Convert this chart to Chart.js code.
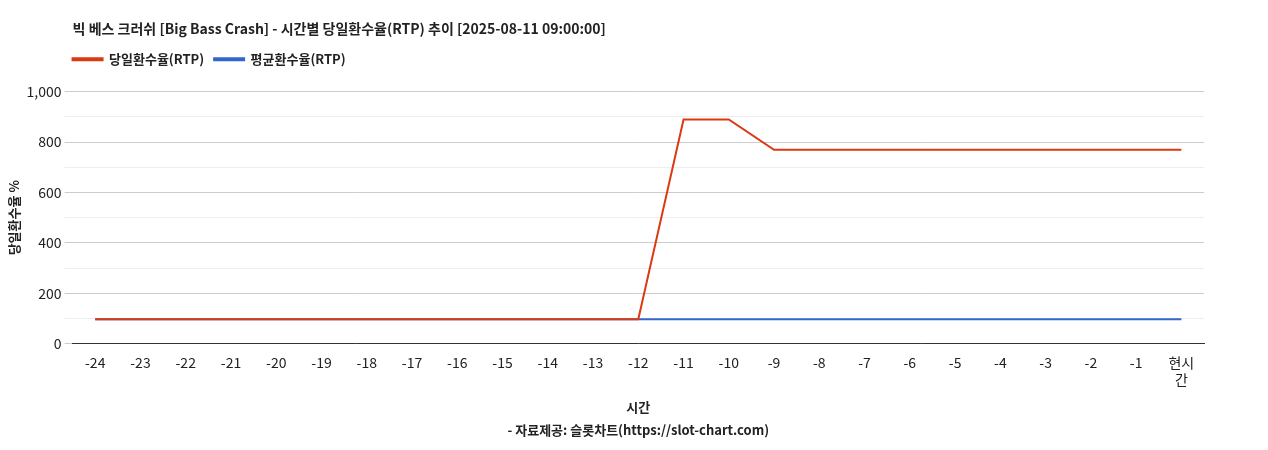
<!DOCTYPE html>
<html>
<head>
<meta charset="utf-8">
<script src="https://cdn.jsdelivr.net/npm/chart.js@4"></script>
<style>
  html, body { margin: 0; padding: 0; background: #fff; }
  #wrap { width: 1268px; height: 450px; }
</style>
</head>
<body>
<div id="wrap"><canvas id="rtpChart"></canvas></div>
<script>
const hours = ['-24','-23','-22','-21','-20','-19','-18','-17','-16','-15','-14','-13','-12',
               '-11','-10','-9','-8','-7','-6','-5','-4','-3','-2','-1',['현시','간']];
const avgRtp = [97,97,97,97,97,97,97,97,97,97,97,97,97,97,97,97,97,97,97,97,97,97,97,97,97];
const dayRtp = [97,97,97,97,97,97,97,97,97,97,97,97,97,890,890,770,770,770,770,770,770,770,770,770,770];

const fontFamily = '"Noto Sans CJK KR", "Noto Sans", sans-serif';
Chart.defaults.font.family = fontFamily;
Chart.defaults.color = '#222';

// title & legend aligned with the plot area's left edge
const alignHeader = {
    id: 'alignHeader',
    afterLayout(chart) {
        const left = chart.chartArea.left;
        if (chart.titleBlock) chart.titleBlock.left = left;
        if (chart.legend) {
            chart.legend.left = left - 10;
            chart.legend.adjustHitBoxes();
        }
    }
};

const ctx = document.getElementById('rtpChart').getContext('2d');
const rtpChart = new Chart(ctx, {
    type: 'line',
    data: {
        labels: hours,
        datasets: [{
            label: '평균환수율(RTP)',
            data: avgRtp,
            borderColor: '#3366cc',
            backgroundColor: '#3366cc',
            borderWidth: 2,
            pointRadius: 0,
            tension: 0,
            order: 1
        }, {
            label: '당일환수율(RTP)',
            data: dayRtp,
            borderColor: '#dc3912',
            backgroundColor: '#dc3912',
            borderWidth: 2,
            pointRadius: 0,
            tension: 0,
            order: 0
        }]
    },
    options: {
        responsive: true,
        maintainAspectRatio: false,
        animation: false,
        layout: { padding: { top: 10, right: 64, bottom: 4, left: 4 } },
        plugins: {
            title: {
                display: true,
                align: 'start',
                text: '빅 베스 크러쉬 [Big Bass Crash] - 시간별 당일환수율(RTP) 추이 [2025-08-11 09:00:00]',
                font: { size: 14, weight: 'bold' },
                color: '#222',
                padding: { top: 10, bottom: 6 }
            },
            legend: {
                position: 'top',
                align: 'start',
                labels: {
                    boxWidth: 30,
                    boxHeight: 2,
                    font: { size: 13, weight: 'bold' },
                    color: '#222',
                    padding: 10
                }
            },
            tooltip: { enabled: false }
        },
        scales: {
            x: {
                offset: true,
                grid: { display: false },
                border: { color: '#333' },
                ticks: { font: { size: 14 }, color: '#222', maxRotation: 0, autoSkip: false },
                title: {
                    display: true,
                    text: ['시간', '- 자료제공: 슬롯차트(https://slot-chart.com)'],
                    font: { size: 13, weight: 'bold', lineHeight: 1.8 },
                    color: '#222',
                    padding: { top: 4 }
                }
            },
            y: {
                min: 0,
                max: 1000,
                border: { display: false },
                grid: {
                    color: ctx => (ctx.tick && ctx.tick.value % 200 === 0) ? '#cccccc' : '#eeeeee'
                },
                ticks: {
                    stepSize: 100,
                    font: { size: 14 },
                    color: '#222',
                    callback: v => v % 200 === 0 ? v.toLocaleString('en-US') : ''
                },
                title: {
                    display: true,
                    text: '당일환수율 %',
                    font: { size: 13, weight: 'bold' },
                    color: '#222',
                    padding: 2
                }
            }
        }
    },
    plugins: [alignHeader, {
        id: 'legendGap',
        beforeInit(chart) {
            const fit = chart.legend && chart.legend.fit;
            if (!fit) return;
            chart.legend.fit = function() { fit.call(this); this.height += 16; };
        }
    }]
});
</script>
</body>
</html>
